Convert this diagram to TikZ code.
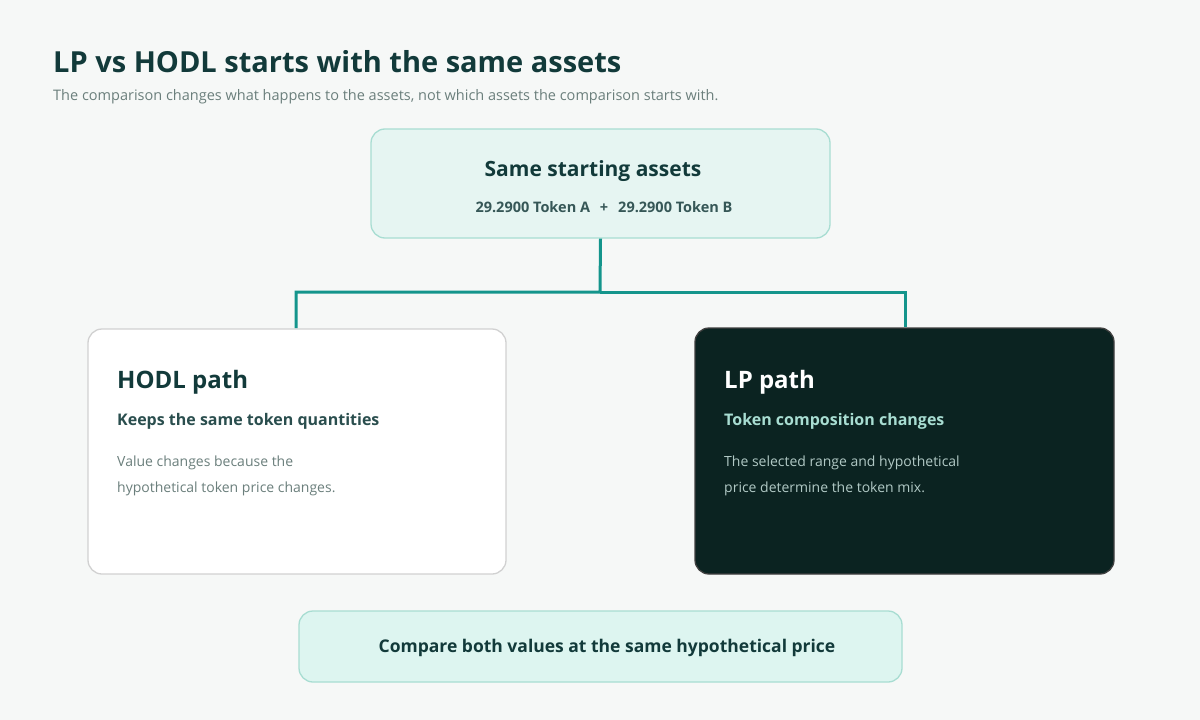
\documentclass[tikz,border=0pt]{standalone}
\usepackage{fontspec}
\setmainfont{Open Sans}
\begin{document}
\begin{tikzpicture}[x=1pt,y=-1pt,
  box/.style={rounded corners=14pt,line width=1.3pt},
  lbl/.style={anchor=base west,inner sep=0pt},
  ctr/.style={anchor=base,inner sep=0pt},
  conn/.style={draw=teal1,line width=3pt}]
\definecolor{bg}{HTML}{F6F8F7}
\definecolor{dark}{HTML}{123A3A}
\definecolor{grayt}{HTML}{6B7F7C}
\definecolor{mint}{HTML}{E6F5F2}
\definecolor{mintb}{HTML}{A8DDD2}
\definecolor{mint2}{HTML}{DDF5F0}
\definecolor{teal1}{HTML}{14958C}
\definecolor{lpbg}{HTML}{0B2321}
\fill[bg] (0,0) rectangle (1200,720);
\useasboundingbox (0,0) rectangle (1200,720);
\node[lbl,text=dark] (t) at (53,72) {\fontsize{29}{34}\selectfont\bfseries LP vs HODL starts with the same assets};
\node[lbl,text=grayt] (s) at (53,100) {\fontsize{14.5}{17}\selectfont The comparison changes what happens to the assets, not which assets the comparison starts with.};
\node[box,draw=mintb,fill=mint,minimum width=459pt,minimum height=109pt,inner sep=0pt] (top) at (600.5,183.5) {};
\node[ctr,text=dark] at (593,176) {\fontsize{21}{25}\selectfont\bfseries Same starting assets};
\node[ctr,text=dark!85] at (604,212) {\fontsize{14.5}{17}\selectfont\bfseries 29.2900 Token A \ \,+\ \, 29.2900 Token B};
\node[box,draw=black!18,fill=white,minimum width=418pt,minimum height=245pt,inner sep=0pt] (hodl) at (297,451.5) {};
\node[box,draw=black!75,fill=lpbg,minimum width=419pt,minimum height=246pt,inner sep=0pt] (lp) at (904.5,451) {};
\draw[conn] (top.south) -- (600,292) -| (296,328);
\draw[conn] (600,292) -| (905,327);
\node[lbl,text=dark] at (117,388) {\fontsize{24}{29}\selectfont\bfseries HODL path};
\node[lbl,text=dark!90] at (117,425) {\fontsize{16}{19}\selectfont\bfseries Keeps the same token quantities};
\node[lbl,text=grayt] at (117,466) {\fontsize{14}{17}\selectfont Value changes because the};
\node[lbl,text=grayt] at (117,492) {\fontsize{14}{17}\selectfont hypothetical token price changes.};
\node[lbl,text=white] at (724,388) {\fontsize{24}{29}\selectfont\bfseries LP path};
\node[lbl,text=mintb] at (724,425) {\fontsize{16}{19}\selectfont\bfseries Token composition changes};
\node[lbl,text=black!25!mintb!60!white] at (724,466) {\fontsize{14}{17}\selectfont The selected range and hypothetical};
\node[lbl,text=black!25!mintb!60!white] at (724,492) {\fontsize{14}{17}\selectfont price determine the token mix.};
\node[box,draw=mintb,fill=mint2,minimum width=603pt,minimum height=71pt,inner sep=0pt] (cmp) at (600.5,646.5) {};
\node[ctr,text=dark] at (607,652) {\fontsize{17.5}{21}\selectfont\bfseries Compare both values at the same hypothetical price};
\end{tikzpicture}
\end{document}
